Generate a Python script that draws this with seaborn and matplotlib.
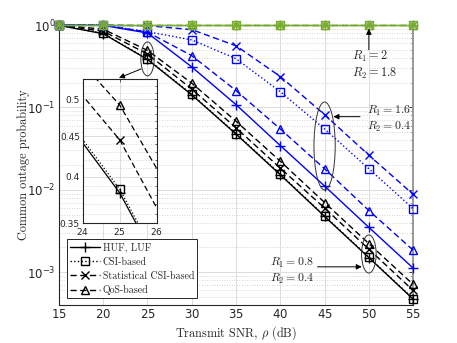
import numpy as np
import pandas as pd
import seaborn as sns
import matplotlib.pyplot as plt
from matplotlib.lines import Line2D
from matplotlib.patches import Ellipse
from matplotlib.ticker import FixedLocator, NullFormatter, LogLocator, FuncFormatter
import matplotlib.transforms as mtransforms

# Data
snr = [15, 20, 25, 30, 35, 40, 45, 50, 55]

# R1 = 0.8, R2 = 0.4 (black)
huf_08 = [0.992, 0.785, 0.382, 0.142, 0.0474, 0.0152, 0.00475, 0.00150, 0.000470]
csi_08 = [0.993, 0.790, 0.386, 0.144, 0.0480, 0.0155, 0.00482, 0.00152, 0.000478]
stat_08 = [0.997, 0.840, 0.445, 0.167, 0.0565, 0.0183, 0.00600, 0.00190, 0.000600]
qos_08 = [0.999, 0.890, 0.492, 0.197, 0.0680, 0.0222, 0.00700, 0.00222, 0.000710]

# R1 = 1.6, R2 = 0.4 (blue)
huf_16 = [1.0, 0.99, 0.80, 0.310, 0.108, 0.0344, 0.0111, 0.00350, 0.00112]
csi_16 = [1.0, 1.0, 0.83, 0.660, 0.390, 0.155, 0.0547, 0.0180, 0.00590]
stat_16 = [1.0, 1.0, 0.98, 0.880, 0.560, 0.237, 0.0816, 0.0263, 0.00880]
qos_16 = [1.0, 1.0, 0.82, 0.425, 0.160, 0.0547, 0.0180, 0.00560, 0.00185]

# R1 = 2, R2 = 1.8 (green)
huf_2 = [1.0, 1.0, 1.0, 1.0, 1.0, 1.0, 1.0, 1.0, 1.0]
csi_2 = [1.0, 1.0, 1.0, 1.0, 1.0, 1.0, 1.0, 1.0, 1.0]
stat_2 = [1.0, 1.0, 1.0, 1.0, 1.0, 1.0, 1.0, 1.0, 1.0]
qos_2 = [1.0, 1.0, 1.0, 1.0, 1.0, 1.0, 1.0, 1.0, 1.0]

scheme_names = ["HUF, LUF", "CSI-based", "Statistical CSI-based", "QoS-based"]
inset_ticks = [0.35, 0.4, 0.45, 0.5]

sns.set_style("whitegrid")
plt.rcParams['font.family'] = ['cmr10', 'DejaVu Serif']
plt.rcParams['mathtext.fontset'] = 'cm'
plt.rcParams['axes.formatter.use_mathtext'] = True

styles = {
    "HUF, LUF": dict(ls='-', marker='+', ms=7, mew=1.0),
    "CSI-based": dict(ls=':', marker='s', ms=5.5, mew=1.0, mfc='none'),
    "Statistical CSI-based": dict(ls=(0, (4.5, 2.5)), marker='x', ms=6, mew=1.0),
    "QoS-based": dict(ls=(0, (4.5, 2.5)), marker='^', ms=6, mew=1.0, mfc='none'),
}

groups = [
    ("#000000", [huf_08, csi_08, stat_08, qos_08]),
    ("#0000FF", [huf_16, csi_16, stat_16, qos_16]),
    ("#77AC30", [huf_2, csi_2, stat_2, qos_2]),
]

fig = plt.figure(figsize=(4.57, 3.43), dpi=100)
ax = fig.add_axes([0.129, 0.111, 0.775, 0.816])

grid_c = '#dcdcdc'
for color, series in groups:
    for name, vals in zip(scheme_names, series):
        st = styles[name]
        sns.lineplot(x=snr, y=vals, ax=ax, color=color, lw=1.0,
                     linestyle=st['ls'], marker=st['marker'], markersize=st['ms'],
                     markeredgewidth=st['mew'], markeredgecolor=color,
                     markerfacecolor=st.get('mfc', color), clip_on=False,
                     zorder=3)

ax.set_yscale('log')
ax.set_xlim(15, 55)
ax.set_ylim(4e-4, 1)
ax.set_xticks(snr)
ax.yaxis.set_major_locator(FixedLocator([1e-3, 1e-2, 1e-1, 1.0]))
ax.yaxis.set_major_formatter(FuncFormatter(
    lambda v, p: r"$\mathregular{10^{%d}}$" % int(round(np.log10(v)))))
ax.yaxis.set_minor_locator(LogLocator(base=10, subs=np.arange(2, 10), numticks=20))
ax.yaxis.set_minor_formatter(NullFormatter())
ax.grid(which='major', color=grid_c, lw=0.7, ls='-')
ax.grid(which='minor', axis='y', color='#c8c8c8', lw=0.6, ls=(0, (1, 2)))
ax.set_axisbelow(True)
ax.tick_params(which='both', direction='in', top=True, right=True,
               labelsize=8.5, labelfontfamily='DejaVu Sans', length=3, width=0.6, pad=2.5)
ax.tick_params(which='minor', length=1.8)
for side, sp in ax.spines.items():
    sp.set_color('#262626')
    sp.set_linewidth(0.8)
ax.spines['right'].set_color('#999999')
ax.spines['right'].set_linewidth(1.4)

ax.set_xlabel(r"Transmit SNR, $\rho$ (dB)", fontsize=8.8, labelpad=2)
ax.set_ylabel("Common outage probability", fontsize=8.8)
ax.yaxis.set_label_coords(-0.083, 0.5)

# legend (black handles)
handles = []
for name in scheme_names:
    st = styles[name]
    handles.append(Line2D([], [], color='k', lw=1.0, linestyle=st['ls'],
                          marker=st['marker'], markersize=st['ms'],
                          markeredgewidth=st['mew'],
                          markerfacecolor=st.get('mfc', 'k')))
leg = ax.legend(handles=handles, labels=scheme_names, loc='lower left',
                bbox_to_anchor=(0.022, 0.024), borderaxespad=0, fontsize=7.2,
                handlelength=3.0, handletextpad=0.3, labelspacing=0.45,
                borderpad=0.3, fancybox=False, framealpha=1, edgecolor='#262626')
leg.get_frame().set_linewidth(0.7)

# ellipses (x in data, y in axes fraction)
bt = mtransforms.blended_transform_factory(ax.transData, ax.transAxes)
for cx, cy, w, h in [(25, 0.879, 1.5, 0.121), (45, 0.568, 2.4, 0.314), (50, 0.182, 1.65, 0.136)]:
    ax.add_patch(Ellipse((cx, cy), w, h, transform=bt, fill=False,
                         ec='#333333', lw=0.7, zorder=5, clip_on=False))

arrow = dict(arrowstyle='-|>', color='k', lw=0.7, mutation_scale=8, shrinkA=0, shrinkB=0)
ax.annotate("", xy=(50, 0.90), xytext=(50, 0.50), arrowprops=arrow, zorder=6)
ax.text(48.1, 0.33, "$R_1 = 2$\n$R_2 = 1.8$", fontsize=8.8, ha='left', va='center',
        linespacing=1.2)
ax.annotate("", xy=(46.0, 0.0772), xytext=(49.0, 0.0772), arrowprops=arrow, zorder=6)
ax.text(49.8, 0.073, "$R_1 = 1.6$\n$R_2 = 0.4$", fontsize=8.5, ha='left', va='center',
        linespacing=1.2)
ax.annotate("", xy=(49.2, 0.00116), xytext=(44.2, 0.00116), arrowprops=arrow, zorder=6)
ax.text(38.8, 0.00104, "$R_1 = 0.8$\n$R_2 = 0.4$", fontsize=8.5, ha='left', va='center',
        linespacing=1.2)
ax.annotate("", xy=(0.1695, 0.811), xytext=(0.2316, 0.843), xycoords='axes fraction',
            textcoords='axes fraction', arrowprops=arrow, zorder=6)

# inset zoom around 25 dB
axin = fig.add_axes([0.181, 0.349, 0.162, 0.42])
color, series = groups[0]
for name, vals in zip(scheme_names, series):
    st = styles[name]
    sns.lineplot(x=snr, y=vals, ax=axin, color=color, lw=0.9,
                 linestyle=st['ls'], marker=st['marker'], markersize=st['ms'],
                 markeredgewidth=st['mew'], markeredgecolor=color,
                 markerfacecolor=st.get('mfc', color))
axin.set_yscale('log')
axin.set_xlim(24, 26)
axin.set_ylim(0.35, 0.53)
axin.set_xticks([24, 25, 26])
axin.yaxis.set_major_locator(FixedLocator(inset_ticks))
axin.yaxis.set_minor_locator(FixedLocator(np.arange(0.36, 0.53, 0.01)))
axin.yaxis.set_major_formatter(FuncFormatter(lambda v, p: f"{v:g}"))
axin.yaxis.set_minor_formatter(NullFormatter())
axin.grid(which='major', color=grid_c, lw=0.7, ls='-')
axin.grid(which='minor', axis='y', color='#c8c8c8', lw=0.6, ls=(0, (1, 2)))
axin.set_facecolor('white')
axin.tick_params(which='both', direction='in', top=True, right=True,
                 labelsize=6.5, labelfontfamily='DejaVu Sans', length=2, width=0.5, pad=2)
axin.tick_params(which='minor', length=1.2)
for sp in axin.spines.values():
    sp.set_color('#262626')
    sp.set_linewidth(0.8)
axin.set_xlabel("")
axin.set_ylabel("")

fig.savefig("out.png", dpi=100)
